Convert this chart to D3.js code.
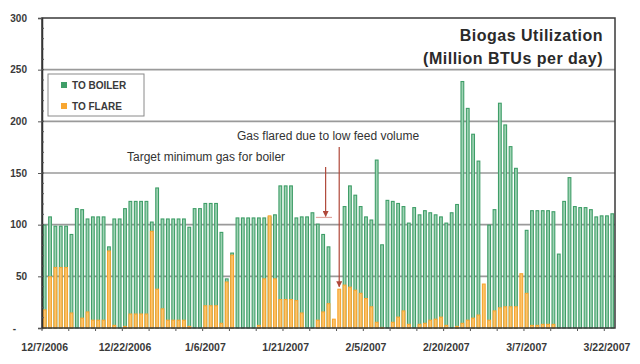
<!DOCTYPE html>
<html>
<head>
<meta charset="utf-8">
<script src="https://cdn.jsdelivr.net/npm/d3@7"></script>
<style>
body { margin: 0; background: #fff; }
text { font-family: Arial, "Liberation Sans", sans-serif; }
</style>
</head>
<body>
<svg id="chart" width="640" height="364"></svg>
<script>
// one bar per day, 12/7/2006 .. 3/23/2007
var firstDay = new Date(2006, 11, 7), lastDay = new Date(2007, 2, 24);

var toBoiler = [100, 108, 99, 99, 99, 91, 116, 115, 106, 108, 108, 108, 79, 106, 106, 116,
    123, 123, 123, 123, 103, 136, 106, 106, 106, 106, 106, 98, 116, 116,
    121, 121, 121, 93, 48, 73, 107, 107, 107, 107, 107, 107, 108, 110, 138,
    138, 138, 107, 108, 108, 112, 101, 91, 79, 0, 0, 118, 138, 129, 118,
    108, 105, 163, 81, 124, 123, 121, 118, 102, 117, 110, 114, 112, 110, 108,
    102, 112, 120, 239, 213, 188, 162, 0, 100, 115, 218, 197, 176, 155, 0,
    95, 114, 114, 114, 114, 113, 72, 123, 146, 118, 117, 117, 115, 108, 109,
    109, 111];

var toFlare = [18, 50, 59, 59, 59, 15, 0, 10, 16, 8, 8, 8, 75, 3, 0, 2,
    14, 14, 14, 14, 94, 38, 19, 8, 8, 8, 8, 2, 0, 0,
    22, 22, 22, 5, 45, 71, 0, 0, 0, 0, 3, 48, 109, 48, 28,
    28, 28, 27, 15, 0, 0, 8, 16, 24, 9, 38, 42, 40, 37, 34,
    29, 21, 6, 1, 0, 6, 11, 17, 4, 0, 4, 5, 8, 9, 11,
    3, 0, 2, 5, 8, 10, 13, 43, 8, 17, 20, 21, 21, 21, 53,
    34, 3, 3, 4, 4, 4, 0, 0, 0, 0, 0, 0, 0, 0, 0,
    0, 0];

var tickLabels = ["12/7/2006", "12/22/2006", "1/6/2007", "1/21/2007", "2/5/2007", "2/20/2007", "3/7/2007", "3/22/2007"];
var yTicks = [0, 50, 100, 150, 200, 250, 300];
var seriesNames = ["TO BOILER", "TO FLARE"];
var seriesColors = ["#3f9e68", "#f8a630"];
var seriesFills = ["#9fd3b4", "#fcc46e"];

var fmt = d3.timeFormat("%-m/%-d/%Y");
var days = d3.timeDay.range(firstDay, lastDay).map(fmt);

var svg = d3.select("#chart");
var plotL = 42, plotR = 615, plotT = 18, plotB = 328;

var x = d3.scaleBand()
    .domain(days)
    .range([plotL, plotR])
    .paddingInner(0.3)
    .paddingOuter(0.15);

var y = d3.scaleLinear()
    .domain([0, 300])
    .range([plotB, plotT]);

// gridlines
svg.append("g")
    .selectAll("line")
    .data(yTicks.filter(function (d) { return d > 0 && d < 300; }))
    .enter().append("line")
    .attr("x1", plotL).attr("x2", plotR)
    .attr("y1", function (d) { return y(d); })
    .attr("y2", function (d) { return y(d); })
    .attr("stroke", "#9a9a9a")
    .attr("stroke-width", 1.6);

// bars: flare drawn over boiler, thin dark edges with paler middle
var series = [toBoiler, toFlare];
series.forEach(function (vals, k) {
    svg.append("g")
        .selectAll("rect")
        .data(vals)
        .enter().append("rect")
        .attr("x", function (d, i) { return x(days[i]) + 0.5; })
        .attr("width", x.bandwidth() - 1)
        .attr("y", function (d) { return y(d) + 0.5; })
        .attr("height", function (d) { return Math.max(0, plotB - y(d) - 0.5); })
        .attr("fill", seriesFills[k])
        .attr("stroke", function (d) { return d > 0 ? seriesColors[k] : "none"; })
        .attr("stroke-width", 1.1);
});

// plot frame
svg.append("rect")
    .attr("x", plotL).attr("y", plotT)
    .attr("width", plotR - plotL).attr("height", plotB - plotT)
    .attr("fill", "none")
    .attr("stroke", "#3a3a3a")
    .attr("stroke-width", 1.5);

// y axis
var yAxis = svg.append("g")
    .attr("transform", "translate(" + plotL + ",0)")
    .call(d3.axisLeft(y).tickValues(yTicks).tickSize(4)
        .tickFormat(function (d) { return d === 0 ? "-" : d; }));
yAxis.select(".domain").attr("stroke", "#333").attr("stroke-width", 1.5);
yAxis.selectAll(".tick line").attr("stroke", "#555");
yAxis.selectAll("text")
    .attr("x", -15)
    .style("font-size", "10px")
    .style("font-weight", "bold")
    .attr("fill", "#3a3a3a");
yAxis.selectAll(".tick").filter(function (d) { return d === 0; })
    .select("text").attr("x", -26);

// minor ticks on the y axis
svg.append("g")
    .selectAll("line")
    .data(d3.range(10, 300, 10))
    .enter().append("line")
    .attr("x1", plotL).attr("x2", plotL + 2)
    .attr("y1", function (d) { return y(d); })
    .attr("y2", function (d) { return y(d); })
    .attr("stroke", "#555");

// x axis: tick every 5 days, label every 15
var xAxis = svg.append("g")
    .attr("transform", "translate(0," + plotB + ")");
xAxis.selectAll("line")
    .data(days.filter(function (d, i) { return i % 5 === 0; }))
    .enter().append("line")
    .attr("x1", function (d) { return x(d) - x.step() * x.paddingInner() / 2; })
    .attr("x2", function (d) { return x(d) - x.step() * x.paddingInner() / 2; })
    .attr("y1", 0).attr("y2", 3)
    .attr("stroke", "#555");
xAxis.selectAll("text")
    .data(tickLabels)
    .enter().append("text")
    .attr("x", function (d) { return x(d) + x.bandwidth() / 2; })
    .attr("y", 23)
    .attr("text-anchor", "middle")
    .style("font-size", "10.5px")
    .style("font-weight", "bold")
    .attr("fill", "#3a3a3a")
    .text(function (d) { return d; });

// title
svg.append("text")
    .attr("x", 603).attr("y", 41)
    .attr("text-anchor", "end")
    .style("font-size", "16px")
    .style("font-weight", "bold")
    .style("letter-spacing", "0.5px")
    .attr("fill", "#2a2a2a")
    .text("Biogas Utilization");
svg.append("text")
    .attr("x", 603).attr("y", 64)
    .attr("text-anchor", "end")
    .style("font-size", "16px")
    .style("font-weight", "bold")
    .style("letter-spacing", "0.5px")
    .attr("fill", "#2a2a2a")
    .text("(Million BTUs per day)");

// legend
var legend = svg.append("g").attr("transform", "translate(48,74)");
legend.append("rect")
    .attr("width", 96).attr("height", 42)
    .attr("fill", "#fff")
    .attr("stroke", "#8a8a8a");
seriesNames.forEach(function (name, k) {
    legend.append("rect")
        .attr("x", 13).attr("y", 8 + k * 21)
        .attr("width", 6).attr("height", 6)
        .attr("fill", seriesColors[k]);
    legend.append("text")
        .attr("x", 24).attr("y", 11 + k * 21)
        .attr("dy", "0.35em")
        .style("font-size", "10px")
        .style("font-weight", "bold")
        .attr("fill", "#3a3a3a")
        .text(name);
});

// annotations
var red = "#b0483a";
svg.append("defs").append("marker")
    .attr("id", "head")
    .attr("viewBox", "0 0 10 10")
    .attr("refX", 9).attr("refY", 5)
    .attr("markerWidth", 5).attr("markerHeight", 5)
    .attr("orient", "auto")
    .append("path")
    .attr("d", "M0,0L10,5L0,10z")
    .attr("fill", red);

svg.append("text")
    .attr("x", 237).attr("y", 140)
    .style("font-size", "12px")
    .attr("fill", "#333")
    .text("Gas flared due to low feed volume");
svg.append("text")
    .attr("x", 127).attr("y", 161)
    .style("font-size", "12px")
    .attr("fill", "#333")
    .text("Target minimum gas for boiler");

var flaredX = x("1/31/2007") + x.bandwidth() / 2;
svg.append("line")
    .attr("x1", flaredX).attr("x2", flaredX)
    .attr("y1", 147).attr("y2", y(40))
    .attr("stroke", red).attr("stroke-width", 1.2)
    .attr("marker-end", "url(#head)");

var targetX = x("1/29/2007") - 1;
svg.append("line")
    .attr("x1", targetX).attr("x2", targetX)
    .attr("y1", 167).attr("y2", y(108))
    .attr("stroke", red).attr("stroke-width", 1.2)
    .attr("marker-end", "url(#head)");
svg.append("line")
    .attr("x1", x("1/27/2007")).attr("x2", x("1/30/2007"))
    .attr("y1", y(107)).attr("y2", y(107))
    .attr("stroke", "#e0a8a0").attr("stroke-width", 1.2);
</script>
</body>
</html>
